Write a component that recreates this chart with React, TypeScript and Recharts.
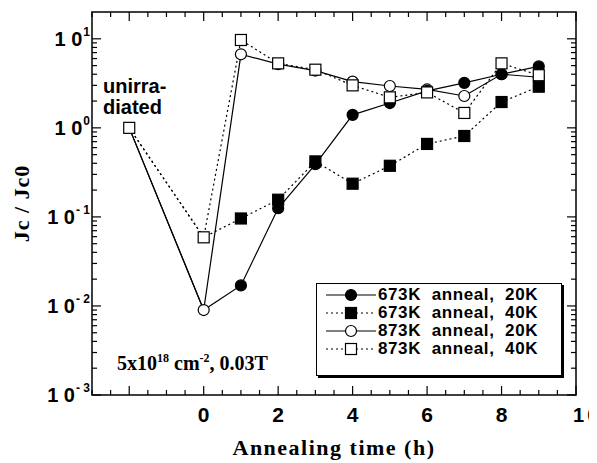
import React from 'react';
import { LineChart, Line, XAxis, YAxis, ReferenceArea, Legend } from 'recharts';

// annealing time (h); -2 is the unirradiated reference point
const hours = [-2, 0, 1, 2, 3, 4, 5, 6, 7, 8, 9];
const jc673K20K = [1, 0.009, 0.017, 0.125, 0.39, 1.4, 1.9, 2.6, 3.2, 4.0, 4.9];
const jc673K40K = [1, 0.059, 0.096, 0.156, 0.42, 0.236, 0.375, 0.66, 0.81, 1.95, 2.9];
const jc873K20K = [1, 0.009, 6.7, 5.2, 4.4, 3.3, 2.95, 2.7, 2.28, 4.0, 3.7];
const jc873K40K = [1, 0.059, 9.7, 5.3, 4.5, 3.0, 2.2, 2.5, 1.47, 5.3, 3.9];

const xLabels = [0, 2, 4, 6, 8, 10];
const xTicks = [-3, -2.5, -2, -1.5, -1, -0.5, 0, 0.5, 1, 1.5, 2, 2.5, 3, 3.5, 4, 4.5, 5, 5.5, 6, 6.5, 7, 7.5, 8, 8.5, 9, 9.5, 10];
const yDecades = [-3, -2, -1, 0, 1];
const yTicks: number[] = [];
yDecades.forEach((d) => {
  for (let k = 1; k <= 9; k++) {
    const v = k * Math.pow(10, d);
    if (v < 20) yTicks.push(v);
  }
});

const data = hours.map((t, i) => ({
  t,
  a: jc673K20K[i],
  b: jc673K40K[i],
  c: jc873K20K[i],
  d: jc873K40K[i],
}));

const W = 589;
const H = 455;
const PL = 84;
const PR = 568;
const PT = 4;
const PB = 387;

const SANS = '"Liberation Sans", Arial, Helvetica, sans-serif';
const SERIF = '"Liberation Serif", "Times New Roman", serif';

const legendItems = [
  { label: '673K  anneal,  20K', shape: 'circle', filled: true, dash: undefined },
  { label: '673K  anneal,  40K', shape: 'square', filled: true, dash: '2 3' },
  { label: '873K  anneal,  20K', shape: 'circle', filled: false, dash: undefined },
  { label: '873K  anneal,  40K', shape: 'square', filled: false, dash: '2 3' },
];

const Marker = ({ cx, cy, shape, filled }: any) =>
  shape === 'circle' ? (
    <circle cx={cx} cy={cy} r={5.5} fill={filled ? '#000' : '#fff'} stroke="#000" strokeWidth={1.2} />
  ) : (
    <rect x={cx - 5.5} y={cy - 5.5} width={11} height={11} fill={filled ? '#000' : '#fff'} stroke="#000" strokeWidth={1.2} />
  );

const dotFor = (shape: string, filled: boolean, skipBefore: number) => (props: any) => {
  const { cx, cy, payload, index } = props;
  if (payload.t <= skipBefore) return <g key={`d-${index}`} />;
  return (
    <g key={`d-${index}`}>
      <Marker cx={cx} cy={cy} shape={shape} filled={filled} />
    </g>
  );
};

const XTick = (props: any) => {
  const { x, payload } = props;
  const v = payload.value;
  const major = Number.isInteger(v / 2);
  const len = major ? 9 : 5;
  return (
    <g>
      <line x1={x} x2={x} y1={PB} y2={PB - len} stroke="#000" strokeWidth={1.2} />
      <line x1={x} x2={x} y1={PT} y2={PT + len} stroke="#000" strokeWidth={1.2} />
      {xLabels.includes(v) &&
        (v === 10 ? (
          <text x={x - 3} y={414} textAnchor="start" fontFamily={SANS} fontWeight="bold" fontSize={20} fill="#000">
            <tspan>1</tspan>
            <tspan dx={3}>0</tspan>
          </text>
        ) : (
          <text x={x} y={414} textAnchor="middle" fontFamily={SANS} fontWeight="bold" fontSize={21} fill="#000">
            {v}
          </text>
        ))}
    </g>
  );
};

const YTick = (props: any) => {
  const { y, payload } = props;
  const v = payload.value;
  const e = Math.round(Math.log10(v));
  const major = Math.abs(v - Math.pow(10, e)) < 1e-9 * v;
  const len = major ? 9 : 5;
  return (
    <g>
      <line x1={PL} x2={PL + len} y1={y} y2={y} stroke="#000" strokeWidth={1.2} />
      <line x1={PR} x2={PR - len} y1={y} y2={y} stroke="#000" strokeWidth={1.2} />
      {major && (
        <text x={82} y={y + 7} textAnchor="end" fontFamily={SANS} fontWeight="bold" fontSize={20} fill="#000">
          1 0
          <tspan fontSize={12} dy={-10} dx={1}>
            {e < 0 ? `- ${-e}` : `${e}`}
          </tspan>
        </text>
      )}
    </g>
  );
};

const LegendBox = () => (
  <div
    style={{
      width: 246,
      height: 93,
      boxSizing: 'border-box',
      border: '1.5px solid #000',
      boxShadow: '2px 2px 0 #000',
      background: '#fff',
      paddingTop: 2,
    }}
  >
    {legendItems.map((it) => (
      <div key={it.label} style={{ display: 'flex', alignItems: 'center', height: 18 }}>
        <svg width={60} height={18} style={{ marginLeft: 8, flex: 'none' }}>
          <line x1={1} x2={51} y1={9} y2={9} stroke="#000" strokeWidth={1.2} strokeDasharray={it.dash} />
          <Marker cx={26} cy={9} shape={it.shape} filled={it.filled} />
        </svg>
        <span
          style={{
            fontFamily: SANS,
            fontWeight: 'bold',
            fontSize: 17,
            letterSpacing: 0.6,
            whiteSpace: 'pre',
            lineHeight: '16px',
            marginLeft: -7,
          }}
        >
          {it.label}
        </span>
      </div>
    ))}
  </div>
);

export default function App() {
  return (
    <div style={{ position: 'relative', width: W, height: H }}>
      <LineChart width={W} height={H} data={data} margin={{ top: PT, right: W - PR, bottom: 0, left: 0 }}>
        <XAxis
          dataKey="t"
          type="number"
          domain={[-3, 10]}
          ticks={xTicks}
          interval={0}
          height={68}
          axisLine={false}
          tickLine={false}
          tick={<XTick />}
          allowDataOverflow
          label={{
            value: 'Annealing  time  (h)',
            position: 'insideBottom',
            offset: 8,
            style: { fontFamily: SERIF, fontWeight: 'bold', fontSize: 22, fill: '#000', letterSpacing: 1.5, whiteSpace: 'pre' },
          }}
        />
        <YAxis
          type="number"
          scale="log"
          domain={[0.001, 20]}
          ticks={yTicks}
          interval={0}
          width={PL}
          axisLine={false}
          tickLine={false}
          tick={<YTick />}
          allowDataOverflow
          label={{
            value: 'Jc / Jc0',
            angle: -90,
            position: 'insideLeft',
            offset: 13,
            style: { textAnchor: 'middle', fontFamily: SERIF, fontWeight: 'bold', fontSize: 22, fill: '#000', letterSpacing: 1 },
          }}
        />
        <ReferenceArea x1={-3} x2={10} y1={0.001} y2={20} fill="none" stroke="#000" strokeWidth={1.5} ifOverflow="visible" />
        <Line
          type="linear"
          dataKey="c"
          stroke="#000"
          strokeWidth={1.2}
          isAnimationActive={false}
          activeDot={false}
          dot={dotFor('circle', false, -2)}
        />
        <Line
          type="linear"
          dataKey="a"
          stroke="#000"
          strokeWidth={1.2}
          isAnimationActive={false}
          activeDot={false}
          dot={dotFor('circle', true, 0)}
        />
        <Line
          type="linear"
          dataKey="b"
          stroke="#000"
          strokeWidth={1.2}
          strokeDasharray="2 3"
          isAnimationActive={false}
          activeDot={false}
          dot={dotFor('square', true, 0)}
        />
        <Line
          type="linear"
          dataKey="d"
          stroke="#000"
          strokeWidth={1.2}
          strokeDasharray="2 3"
          isAnimationActive={false}
          activeDot={false}
          dot={dotFor('square', false, -99)}
        />
        <Legend
          verticalAlign="middle"
          layout="horizontal"
          content={<LegendBox />}
          wrapperStyle={{ position: 'absolute', left: 308, top: 275, width: 246, height: 93 }}
        />
      </LineChart>
      <svg width={W} height={H} style={{ position: 'absolute', left: 0, top: 0, pointerEvents: 'none' }}>
        <text fontFamily={SANS} fontWeight="bold" fontSize={20} fill="#000">
          <tspan x={95} y={85}>unirra-</tspan>
          <tspan x={95} y={106}>diated</tspan>
        </text>
        <text x={109} y={362} fontFamily={SERIF} fontWeight="bold" fontSize={20} fill="#000">
          <tspan>5x10</tspan>
          <tspan fontSize={12} dy={-8}>18</tspan>
          <tspan dy={8}>{' cm'}</tspan>
          <tspan fontSize={12} dy={-8}>-2</tspan>
          <tspan dy={8}>{', 0.03T'}</tspan>
        </text>
      </svg>
    </div>
  );
}
